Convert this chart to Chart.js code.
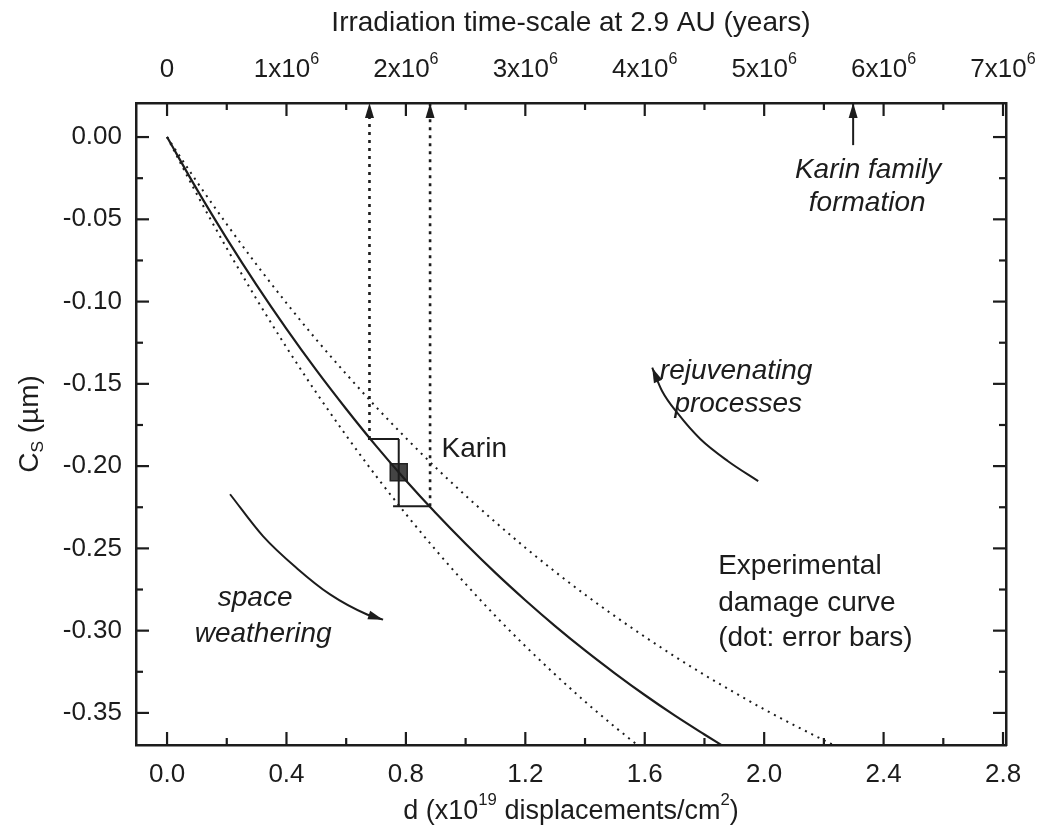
<!DOCTYPE html>
<html><head><meta charset="utf-8">
<script src="https://cdn.jsdelivr.net/npm/chart.js@4.4.1/dist/chart.umd.min.js"></script>
<style>html,body{margin:0;padding:0;background:#fff;}canvas{display:block;}</style>
</head><body>
<canvas id="c" width="1037" height="830"></canvas>
<script>
// ---------------- data ----------------
const dSolid  = [0,0.1,0.2,0.3,0.4,0.5,0.6,0.7,0.8,0.9,1.0,1.1,1.2,1.3,1.4,1.5,1.6,1.7,1.8,1.86];
const csSolid = [0,-0.0318,-0.0617,-0.0900,-0.1166,-0.1417,-0.1653,-0.1877,-0.2087,-0.2285,-0.2472,-0.2649,-0.2815,-0.2972,-0.3120,-0.3259,-0.3391,-0.3515,-0.3631,-0.3699];
const dUpper  = [0,0.1,0.2,0.3,0.4,0.5,0.6,0.7,0.8,0.9,1.0,1.1,1.2,1.3,1.4,1.5,1.6,1.7,1.8,1.9,2.0,2.1,2.2,2.23];
const csUpper = [0,-0.0272,-0.0530,-0.0776,-0.1009,-0.1231,-0.1440,-0.1640,-0.1829,-0.2009,-0.2179,-0.2341,-0.2496,-0.2642,-0.2781,-0.2912,-0.3037,-0.3156,-0.3269,-0.3376,-0.3478,-0.3574,-0.3666,-0.3693];
const dLower  = [0,0.1,0.2,0.3,0.4,0.5,0.6,0.7,0.8,0.9,1.0,1.1,1.2,1.3,1.4,1.5,1.58];
const csLower = [0,-0.0348,-0.0676,-0.0986,-0.1278,-0.1554,-0.1814,-0.2060,-0.2291,-0.2510,-0.2716,-0.2911,-0.3094,-0.3267,-0.3431,-0.3585,-0.3702];

const karinD = 0.776, karinCs = -0.2037;
const karinErrCs = [-0.1835, -0.2244];
const capTopD = [0.673, 0.777];
const capBotD = [0.757, 0.881];
const projD = [0.678, 0.881];          // dotted projections up to the time axis
const familyD = 2.298, familyCsStart = -0.0049;

const weatherD  = [0.211,0.322,0.4355,0.546,0.670,0.7236];
const weatherCs = [-0.2171,-0.2427,-0.2622,-0.2780,-0.2902,-0.2933];
const rejuvD  = [1.980,1.879,1.786,1.712,1.658,1.625];
const rejuvCs = [-0.2091,-0.1970,-0.1835,-0.1683,-0.1543,-0.1402];

const xMajor = [0,0.4,0.8,1.2,1.6,2.0,2.4,2.8];
const xMinor = [0.2,0.6,1.0,1.4,1.8,2.2,2.6];
const yMajor = [0,-0.05,-0.10,-0.15,-0.20,-0.25,-0.30,-0.35];
const yMinor = [-0.025,-0.075,-0.125,-0.175,-0.225,-0.275,-0.325];
const tMajor = [0,1e6,2e6,3e6,4e6,5e6,6e6,7e6];
const tMinor = [0.5e6,1.5e6,2.5e6,3.5e6,4.5e6,5.5e6,6.5e6];
const tLabels = ['0','1x10^{6}','2x10^{6}','3x10^{6}','4x10^{6}','5x10^{6}','6x10^{6}','7x10^{6}'];
const yearsPerD = 2.5e6;

const X_MIN = -0.104, X_MAX = 2.81, Y_MIN = -0.3695, Y_MAX = 0.0207;

const annotations = [
  {d:0.9196, cs:-0.1896, text:'Karin', align:'left', italic:false},
  {d:1.906, cs:-0.1421, text:'rejuvenating', align:'center', italic:true},
  {d:1.913, cs:-0.1622, text:'processes', align:'center', italic:true},
  {d:0.295, cs:-0.2805, text:'space', align:'center', italic:true},
  {d:0.322, cs:-0.3020, text:'weathering', align:'center', italic:true},
  {d:2.348, cs:-0.0201, text:'Karin family', align:'center', italic:true},
  {d:2.345, cs:-0.0402, text:'formation', align:'center', italic:true},
  {d:1.846, cs:-0.2610, text:'Experimental', align:'left', italic:false},
  {d:1.846, cs:-0.2835, text:'damage curve', align:'left', italic:false},
  {d:1.846, cs:-0.3049, text:'(dot: error bars)', align:'left', italic:false}
];

// ---------------- helpers ----------------
const INK = '#1c1c1c';
const FONT = '"Liberation Sans", Arial, sans-serif';
const pts = (xs, ys) => xs.map((x, i) => ({x, y: ys[i]}));

function parseRich(str){
  const segs = []; let i = 0, buf = '';
  while (i < str.length){
    const c = str[i];
    if ((c === '^' || c === '_') && str[i+1] === '{'){
      if (buf) { segs.push({t:buf, k:0}); buf=''; }
      const end = str.indexOf('}', i);
      segs.push({t:str.slice(i+2, end), k: c === '^' ? 1 : -1});
      i = end + 1;
    } else { buf += c; i++; }
  }
  if (buf) segs.push({t:buf, k:0});
  return segs;
}
function drawRich(ctx, str, x, y, size, align, italic){
  const segs = parseRich(str);
  const st = italic ? 'italic ' : '';
  let w = 0;
  segs.forEach(s => { s.sz = s.k ? size*0.62 : size; ctx.font = st + s.sz + 'px ' + FONT; s.w = ctx.measureText(s.t).width; w += s.w; });
  let cx = align === 'center' ? x - w/2 : (align === 'right' ? x - w : x);
  ctx.textBaseline = 'middle'; ctx.textAlign = 'left'; ctx.fillStyle = INK;
  segs.forEach(s => {
    ctx.font = st + s.sz + 'px ' + FONT;
    const dy = s.k === 1 ? -size*0.42 : (s.k === -1 ? size*0.28 : 0);
    ctx.fillText(s.t, cx, y + dy);
    cx += s.w;
  });
}

const lineDs = (data, extra) => Object.assign({data, showLine:true, pointRadius:0, pointHoverRadius:0,
  borderColor:INK, backgroundColor:INK, borderWidth:2, fill:false}, extra || {});

const datasets = [
  lineDs(pts(dSolid, csSolid), {borderWidth:2.2, cubicInterpolationMode:'monotone'}),
  lineDs(pts(dUpper, csUpper), {borderWidth:2, borderDash:[2,5], cubicInterpolationMode:'monotone'}),
  lineDs(pts(dLower, csLower), {borderWidth:2, borderDash:[2,5], cubicInterpolationMode:'monotone'}),
  lineDs([{x:karinD, y:karinErrCs[0]}, {x:karinD, y:karinErrCs[1]}]),
  lineDs([{x:capTopD[0], y:karinErrCs[0]}, {x:capTopD[1], y:karinErrCs[0]}]),
  lineDs([{x:capBotD[0], y:karinErrCs[1]}, {x:capBotD[1], y:karinErrCs[1]}]),
  lineDs([{x:projD[0], y:karinErrCs[0]}, {x:projD[0], y:Y_MAX}], {borderWidth:2.6, borderDash:[3,5], arrow:true}),
  lineDs([{x:projD[1], y:karinErrCs[1]}, {x:projD[1], y:Y_MAX}], {borderWidth:2.6, borderDash:[3,5], arrow:true}),
  lineDs([{x:familyD, y:familyCsStart}, {x:familyD, y:Y_MAX}], {arrow:true}),
  lineDs(pts(weatherD, weatherCs), {cubicInterpolationMode:'monotone', arrow:true}),
  lineDs(pts(rejuvD, rejuvCs), {cubicInterpolationMode:'monotone', arrow:true}),
  {data:[{x:karinD, y:karinCs}], showLine:false, pointStyle:'rect', pointRadius:12, pointHoverRadius:12,
   backgroundColor:'#444', borderColor:'#222', borderWidth:1.5}
];

const framePlugin = {
  id:'frame',
  afterDatasetsDraw(chart){
    const ctx = chart.ctx, a = chart.chartArea, s = chart.scales;
    ctx.save();
    ctx.strokeStyle = INK; ctx.lineWidth = 2.2; ctx.lineCap = 'butt';
    const tick = (x1,y1,x2,y2) => { ctx.beginPath(); ctx.moveTo(x1,y1); ctx.lineTo(x2,y2); ctx.stroke(); };
    const MAJ = 13, MIN = 7;
    xMajor.forEach(v => { const p = s.x.getPixelForValue(v); tick(p, a.bottom, p, a.bottom - MAJ); });
    xMinor.forEach(v => { const p = s.x.getPixelForValue(v); tick(p, a.bottom, p, a.bottom - MIN); });
    tMajor.forEach(v => { const p = s.x2.getPixelForValue(v); tick(p, a.top, p, a.top + MAJ); });
    tMinor.forEach(v => { const p = s.x2.getPixelForValue(v); tick(p, a.top, p, a.top + MIN); });
    yMajor.forEach(v => { const p = s.y.getPixelForValue(v); tick(a.left, p, a.left + MAJ, p); tick(a.right, p, a.right - MAJ, p); });
    yMinor.forEach(v => { const p = s.y.getPixelForValue(v); tick(a.left, p, a.left + MIN, p); tick(a.right, p, a.right - MIN, p); });

    // arrowheads
    chart.data.datasets.forEach((ds, i) => {
      if (!ds.arrow) return;
      const el = chart.getDatasetMeta(i).data;
      const p2 = el[el.length-1], p1 = el[el.length-2];
      const ang = Math.atan2(p2.y - p1.y, p2.x - p1.x);
      const L = 15, W = 4.5;
      ctx.save(); ctx.translate(p2.x, p2.y); ctx.rotate(ang);
      ctx.fillStyle = INK; ctx.beginPath();
      ctx.moveTo(0,0); ctx.lineTo(-L, -W); ctx.lineTo(-L, W); ctx.closePath(); ctx.fill();
      ctx.restore();
    });

    // annotations
    annotations.forEach(an => {
      drawRich(ctx, an.text, s.x.getPixelForValue(an.d), s.y.getPixelForValue(an.cs), 28, an.align, an.italic);
    });

    // top tick labels
    tMajor.forEach((v, i) => drawRich(ctx, tLabels[i], s.x2.getPixelForValue(v), 70, 26, 'center', false));
    // axis titles
    const cx = (a.left + a.right) / 2;
    drawRich(ctx, 'Irradiation time-scale at 2.9 AU (years)', cx, 23, 28, 'center', false);
    drawRich(ctx, 'd (x10^{19} displacements/cm^{2})', cx, 812, 27, 'center', false);
    ctx.save(); ctx.translate(30, (a.top + a.bottom)/2); ctx.rotate(-Math.PI/2);
    drawRich(ctx, 'C_{S} (µm)', 0, 0, 28, 'center', false);
    ctx.restore();
    ctx.restore();
  }
};

const axisCommon = {
  grid:{display:true, drawOnChartArea:false, drawTicks:false},
  border:{display:true, width:2.5, color:INK}
};

new Chart(document.getElementById('c'), {
  type:'scatter',
  data:{datasets},
  options:{
    responsive:false, animation:false, events:[],
    layout:{padding:0},
    plugins:{legend:{display:false}, tooltip:{enabled:false}},
    scales:{
      x:Object.assign({type:'linear', position:'bottom', min:X_MIN, max:X_MAX,
        afterBuildTicks:sc => { sc.ticks = xMajor.map(v => ({value:v})); },
        afterFit:sc => { sc.height = 85; },
        ticks:{autoSkip:false, maxRotation:0, padding:14, color:INK, font:{family:FONT, size:26},
          callback:v => v.toFixed(1)}}, axisCommon),
      x2:Object.assign({type:'linear', position:'top', min:X_MIN*yearsPerD, max:X_MAX*yearsPerD,
        afterBuildTicks:sc => { sc.ticks = tMajor.map(v => ({value:v})); },
        afterFit:sc => { sc.height = 103; },
        ticks:{display:false}}, axisCommon),
      y:Object.assign({type:'linear', position:'left', min:Y_MIN, max:Y_MAX,
        afterBuildTicks:sc => { sc.ticks = yMajor.map(v => ({value:v})); },
        afterFit:sc => { sc.width = 136; },
        ticks:{autoSkip:false, padding:14, color:INK, font:{family:FONT, size:26},
          callback:v => v.toFixed(2)}}, axisCommon),
      y2:Object.assign({type:'linear', position:'right', min:Y_MIN, max:Y_MAX,
        afterBuildTicks:sc => { sc.ticks = yMajor.map(v => ({value:v})); },
        afterFit:sc => { sc.width = 31; },
        ticks:{display:false}}, axisCommon)
    }
  },
  plugins:[framePlugin]
});
</script>
</body></html>
